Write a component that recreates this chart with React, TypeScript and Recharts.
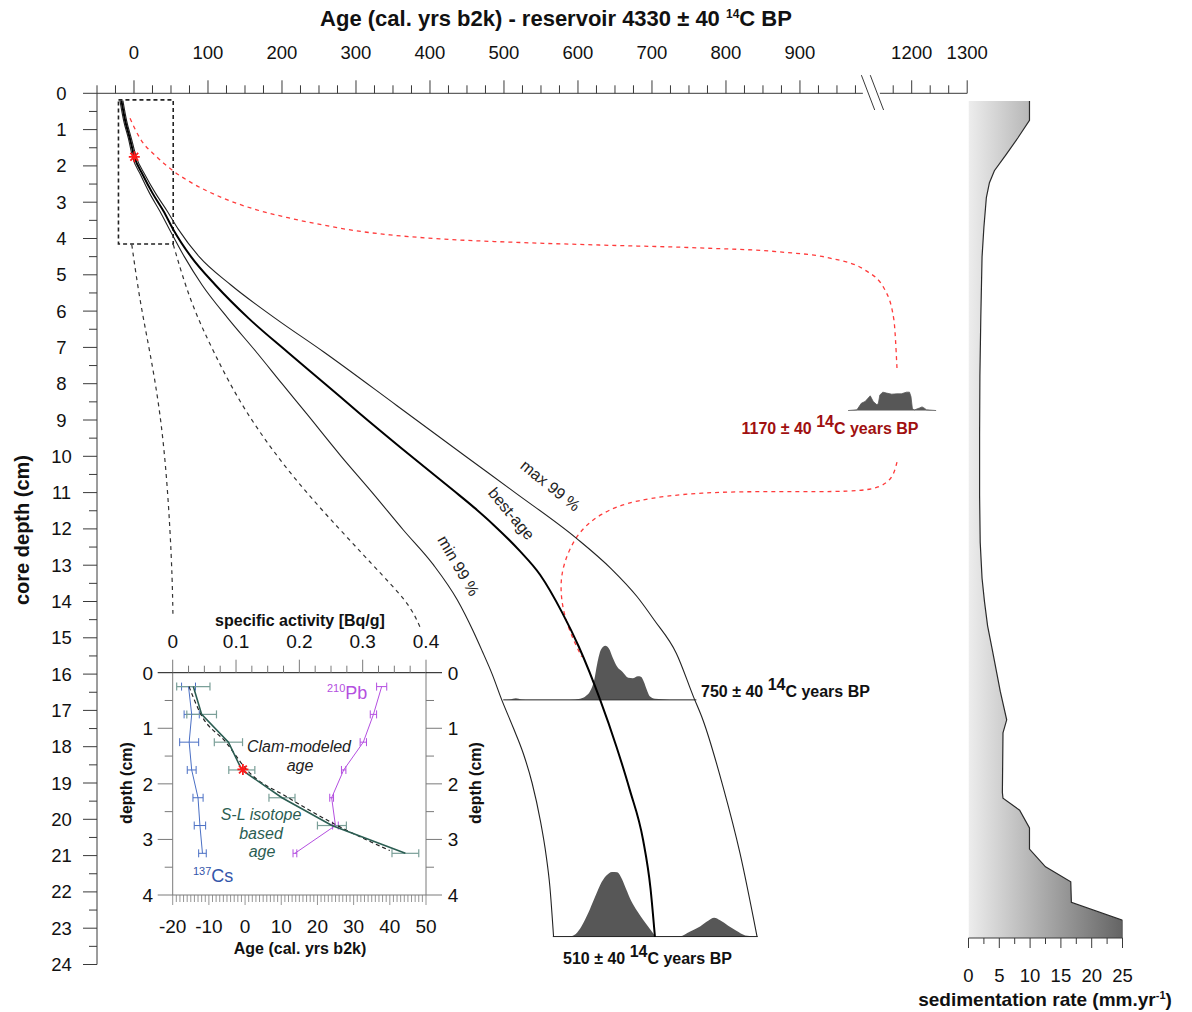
import React from 'react';
import {
  ComposedChart, Line, Area, Scatter, XAxis, YAxis, ReferenceArea, ReferenceLine, ErrorBar,
} from 'recharts';

const FONT = 'Arial, "Liberation Sans", Helvetica, sans-serif';
const W = 1192;
const H = 1012;
const AXIS = '#3a3a3a';

// ---------------- main age-depth model (depth cm, age cal yrs b2k; axis units past the break) ----------------
const minDepths = [0.2, 0.75, 1.25, 1.75, 2.25, 2.75, 3.25, 3.75, 4.5, 5.28, 6.2, 7.12, 8.0, 8.82, 10.0, 11.0, 12.03, 13.0, 13.96, 14.8, 15.34, 16.0, 16.71, 17.5, 18.18, 19.0, 20.02, 21.0, 21.85, 23.23];
const minAges = [-19, -14, -7.5, -2, 9, 21, 35, 48, 68, 92, 127, 165, 200, 233, 280, 322, 364, 405, 437, 458, 470, 484, 497, 513, 526, 538, 549, 557, 562, 567];
const bestDepths = [0.2, 0.75, 1.25, 1.75, 2.25, 2.75, 3.25, 3.75, 4.5, 5.28, 6.2, 7.12, 8.0, 8.82, 9.77, 10.93, 11.4, 11.89, 12.6, 13.27, 14.32, 15.24, 16.71, 18.0, 19.19, 20.57, 21.9, 23.24];
const bestAges = [-17, -12, -5.5, 0.5, 12, 25, 40, 53, 77, 110, 155, 207, 258, 305, 361, 431, 459, 486, 521, 549, 579, 601, 630, 652, 670, 688, 698, 704];
const maxDepths = [0.2, 0.75, 1.25, 1.75, 2.25, 2.75, 3.25, 3.75, 4.5, 5.28, 6.2, 7.12, 8.6, 10.0, 11.0, 12.26, 13.1, 13.87, 14.51, 15.43, 16.62, 17.27, 19.1, 20.94, 23.23];
const maxAges = [-15, -10, -3.5, 3, 15, 29, 45, 60, 88, 131, 191, 256, 355, 448, 515, 598, 645, 680, 703, 733, 756, 769, 796, 819, 842];

// calibrated distributions (age, relative probability)
const d750Base = 16.71;
const d750Height = 1.49;
const d750Ages = [499, 508, 516, 524, 535, 589, 603, 611, 616, 622, 626, 631, 637, 642, 647, 653, 660, 668, 674, 681, 685, 689, 693, 697, 704, 724, 760];
const d750Dens = [0, 0.007, 0.03, 0.007, 0, 0, 0.019, 0.074, 0.148, 0.37, 0.667, 0.926, 1.0, 0.944, 0.778, 0.611, 0.519, 0.407, 0.398, 0.435, 0.426, 0.333, 0.185, 0.065, 0.019, 0.004, 0];

const d510Base = 23.23;
const d510Height = 1.79;
const d510Ages = [566, 589, 597, 605, 614, 622, 630, 638, 646, 653, 658, 665, 672, 680, 688, 695, 701, 705, 738, 751, 765, 776, 784, 792, 803, 814, 826, 843];
const d510Dens = [0, 0.003, 0.041, 0.164, 0.365, 0.58, 0.795, 0.934, 0.995, 0.988, 0.918, 0.733, 0.549, 0.395, 0.257, 0.149, 0.057, 0, 0.003, 0.072, 0.154, 0.242, 0.288, 0.249, 0.165, 0.088, 0.018, 0];

const d1170Base = 8.74;
const d1170Height = 0.507;
const d1170Ages = [965, 977, 983, 988, 995, 999, 1004, 1006, 1008, 1012, 1017, 1024, 1031, 1037, 1044, 1048, 1050, 1052, 1055, 1061, 1065, 1068, 1071, 1084];
const d1170Dens = [0, 0.04, 0.4, 0.49, 0.8, 0.49, 0.31, 0.4, 0.85, 1.0, 0.95, 0.89, 0.91, 0.91, 1.0, 1.0, 0.76, 0.08, 0.04, 0.13, 0.2, 0.13, 0.04, 0];

// connectors (zoom box -> inset) and red links
const connLeftAges = [-3, 8, 21.6, 35, 43.5, 48.8, 51.8, 52.7];
const connLeftDepths = [4.17, 5.74, 7.12, 8.72, 10.38, 12.03, 13.41, 14.45];
const connRightAges = [53.1, 75.7, 107.2, 147.7, 210.8, 278.4, 339.2, 373, 386.5];
const connRightDepths = [4.17, 5.74, 7.12, 8.72, 10.5, 12.03, 13.35, 14.1, 14.7];
const red1Ages = [-5.4, 8.1, 30.7, 53.1, 75.7, 120.7, 165.8, 210.8, 255.8, 300.9, 345.9, 413.5, 521.6, 629.7, 764.9, 873, 940.5, 987.8, 1014.9, 1027, 1031.1];
const red1Depths = [0.69, 1.24, 1.75, 2.14, 2.44, 2.89, 3.21, 3.44, 3.63, 3.79, 3.9, 4.01, 4.11, 4.18, 4.26, 4.37, 4.54, 4.87, 5.42, 6.25, 7.57];
const red2Ages = [1031.1, 1025.7, 1008.1, 974.3, 873, 764.9, 674.7, 629.7, 598.2, 580.1, 575.7, 580.1, 593.6, 605];
const red2Depths = [10.16, 10.6, 10.87, 10.98, 10.97, 10.98, 11.2, 11.57, 12.12, 12.95, 13.59, 14.33, 15.06, 15.52];

const mainStar = [{ age: 0.4, depth: 1.75 }];

// top axis ticks (axis units; 1051 and 1126 sit after the break)
const ageTickValues = [0, 100, 200, 300, 400, 500, 600, 700, 800, 900, 1051, 1126];
const ageTickLabels = ['0', '100', '200', '300', '400', '500', '600', '700', '800', '900', '1200', '1300'];
const ageMinorTicks: number[] = [];
for (let v = -50; v <= 975; v += 25) if (ageTickValues.indexOf(v) < 0) ageMinorTicks.push(v);
ageMinorTicks.push(1026, 1076, 1101);
const topTicks = [...ageMinorTicks, ...ageTickValues].sort((a, b) => a - b);
const depthTicks: number[] = [];
for (let d = 0; d <= 24; d += 0.5) depthTicks.push(d);

// ---------------- inset ----------------
const insetDepths = [0.25, 0.75, 1.25, 1.75, 2.25, 2.75, 3.25];
const slAges = [-14.3, -12.0, -4.6, -0.9, 10.2, 24.0, 44.3];
const slErr = [4.6, 4.1, 3.9, 3.6, 3.6, 4.0, 3.7];
const clamDepths = [0.25, 0.75, 1.25, 1.75, 2.25, 2.75, 3.2];
const clamAges = [-15.5, -12.2, -5.3, 0.5, 12, 25.5, 40];
const csAct = [0.025, 0.03, 0.026, 0.03, 0.04, 0.043, 0.047];
const csErr = [0.011, 0.012, 0.015, 0.007, 0.008, 0.009, 0.006];
const pbAct = [0.33, 0.317, 0.301, 0.27, 0.251, 0.257, 0.193];
const pbErr = [0.008, 0.005, 0.005, 0.0035, 0.003, 0.0045, 0.003];
const insetStar = [{ age: -0.6, depth: 1.74 }];

const insetAgeTicks: number[] = [];
for (let a = -20; a <= 50; a += 1) insetAgeTicks.push(a);
const insetActTicks: number[] = [];
for (let k = 0; k <= 16; k++) insetActTicks.push(k * 0.025);
const insetDepthTicks = [0, 0.5, 1, 1.5, 2, 2.5, 3, 3.5, 4];

// ---------------- sedimentation rate ----------------
const sedDepths = [0.21, 0.74, 1.23, 1.69, 2.13, 2.46, 2.87, 3.69, 4.51, 6.15, 7.79, 9.43, 11.06, 12.37, 13.36, 14.01, 14.67, 15.32, 15.98, 16.47, 17.26, 17.62, 19.26, 19.42, 19.75, 20.24, 20.82, 21.31, 21.72, 22.29, 22.78, 23.27];
const sedRates = [9.9, 9.9, 8.0, 6.1, 4.2, 3.4, 2.9, 2.5, 2.2, 2.0, 1.85, 1.8, 1.8, 1.9, 2.2, 2.6, 3.1, 3.85, 4.6, 5.15, 6.2, 5.6, 5.5, 5.6, 8.3, 9.9, 9.9, 12.5, 16.6, 16.7, 25, 25];
const sedTicks = [0, 2.5, 5, 7.5, 10, 12.5, 15, 17.5, 20, 22.5, 25];

// ---------------- helpers ----------------
const pts = (ages: number[], depths: number[]) => ages.map((a, i) => ({ age: a, depth: depths[i] }));
const dist = (ages: number[], dens: number[], base: number, h: number) =>
  ages.map((a, i) => ({ age: a, top: base - dens[i] * h }));

const StarShape = (p: any) => {
  const { cx, cy } = p;
  const r = 5.5;
  const d = r * 0.707;
  return (
    <g stroke="#ff1a1a" strokeWidth={1.8}>
      <line x1={cx - r} y1={cy} x2={cx + r} y2={cy} />
      <line x1={cx} y1={cy - r} x2={cx} y2={cy + r} />
      <line x1={cx - d} y1={cy - d} x2={cx + d} y2={cy + d} />
      <line x1={cx - d} y1={cy + d} x2={cx + d} y2={cy - d} />
    </g>
  );
};
const NoShape = () => <g />;

const TopTick = (p: any) => {
  const { x, y, payload } = p;
  const i = ageTickValues.indexOf(payload.value);
  const major = i >= 0;
  return (
    <g>
      <line x1={x} y1={y} x2={x} y2={y - (major ? 13 : 8)} stroke={AXIS} />
      {major && (
        <text x={x} y={y - 34} textAnchor="middle" fontSize={18.5} fill="#111">{ageTickLabels[i]}</text>
      )}
    </g>
  );
};
const DepthTick = (p: any) => {
  const { x, y, payload } = p;
  const v = payload.value;
  const major = Number.isInteger(v);
  return (
    <g>
      <line x1={x} y1={y} x2={x - (major ? 14 : 8)} y2={y} stroke={AXIS} />
      {major && (
        <text x={61.5} y={y + 6.5} textAnchor="middle" fontSize={18.5} fill="#111">{v}</text>
      )}
    </g>
  );
};
const INSET_AX = '#7a7a7a';
const InsetAgeTick = (p: any) => {
  const { x, y, payload } = p;
  const v = payload.value;
  const major = v % 10 === 0;
  return (
    <g>
      <line x1={x} y1={y} x2={x} y2={y + (major ? 10 : 7)} stroke={INSET_AX} strokeWidth={0.8} />
      {major && <text x={x} y={y + 38} textAnchor="middle" fontSize={19} fill="#111">{v}</text>}
    </g>
  );
};
const InsetActTick = (p: any) => {
  const { x, y, payload } = p;
  const v = payload.value;
  const major = Math.abs(v * 10 - Math.round(v * 10)) < 1e-6;
  return (
    <g>
      <line x1={x} y1={y} x2={x} y2={y - (major ? 13 : 7)} stroke={INSET_AX} />
      {major && (
        <text x={x} y={y - 25} textAnchor="middle" fontSize={19} fill="#111">{Math.round(v * 10) / 10}</text>
      )}
    </g>
  );
};
const InsetLeftTick = (p: any) => {
  const { x, y, payload } = p;
  const v = payload.value;
  const major = Number.isInteger(v);
  return (
    <g>
      <line x1={x} y1={y} x2={x - (major ? 15 : 8)} y2={y} stroke={major && v === 0 ? '#111' : INSET_AX} />
      {major && <text x={x - 25} y={y + 7} textAnchor="middle" fontSize={19} fill="#111">{v}</text>}
    </g>
  );
};
const InsetRightTick = (p: any) => {
  const { x, y, payload } = p;
  const v = payload.value;
  const major = Number.isInteger(v);
  return (
    <g>
      <line x1={x} y1={y} x2={x + (major ? 16 : 8)} y2={y} stroke={major && v === 0 ? '#111' : INSET_AX} />
      {major && <text x={x + 27} y={y + 7} textAnchor="middle" fontSize={19} fill="#111">{v}</text>}
    </g>
  );
};
const SedTick = (p: any) => {
  const { x, y, payload } = p;
  const v = payload.value;
  const major = v % 5 === 0;
  return (
    <g>
      <line x1={x} y1={y} x2={x} y2={y + (major ? 10 : 6)} stroke={AXIS} />
      {major && <text x={x} y={y + 44} textAnchor="middle" fontSize={18.5} fill="#111">{v}</text>}
    </g>
  );
};

const MainChart = () => (
  <ComposedChart width={W} height={H} margin={{ top: 92.3, left: 96, right: W - 967.2, bottom: H - 964.5 }}>
    <XAxis type="number" dataKey="age" orientation="top" domain={[-50, 1126]} allowDataOverflow
      ticks={topTicks} interval={0} height={1} tickSize={0} tickMargin={0} axisLine={false} tickLine={false} tick={TopTick} />
    <YAxis type="number" dataKey="depth" domain={[0, 24]} reversed allowDataOverflow
      ticks={depthTicks} interval={0} width={1} tickSize={0} tickMargin={0} axisLine={{ stroke: AXIS }} tickLine={false} tick={DepthTick} />
    <ReferenceLine segment={[{ x: -50, y: 0 }, { x: 985, y: 0 }]} stroke={AXIS} ifOverflow="visible" />
    <ReferenceLine segment={[{ x: 1008, y: 0 }, { x: 1126, y: 0 }]} stroke={AXIS} ifOverflow="visible" />
    <ReferenceLine segment={[{ x: 983, y: -0.5 }, { x: 1001, y: 0.46 }]} stroke={AXIS} ifOverflow="visible" />
    <ReferenceLine segment={[{ x: 995, y: -0.5 }, { x: 1013, y: 0.46 }]} stroke={AXIS} ifOverflow="visible" />

    <ReferenceArea x1={-21} x2={53} y1={0.18} y2={4.15} fill="none" fillOpacity={0} stroke="#222" strokeWidth={1.6} strokeDasharray="4 3" ifOverflow="visible" />

    <Area data={dist(d750Ages, d750Dens, d750Base, d750Height)} dataKey="top" baseValue={d750Base} type="monotone" fill="#575757" fillOpacity={1} stroke="none" isAnimationActive={false} />
    <Area data={dist(d510Ages, d510Dens, d510Base, d510Height)} dataKey="top" baseValue={d510Base} type="monotone" fill="#575757" fillOpacity={1} stroke="none" isAnimationActive={false} />
    <Area data={dist(d1170Ages, d1170Dens, d1170Base, d1170Height)} dataKey="top" baseValue={d1170Base} type="linear" fill="#575757" fillOpacity={1} stroke="#575757" strokeWidth={0.8} isAnimationActive={false} />

    <Line data={[{ age: d750Ages[0], depth: d750Base }, { age: d750Ages[d750Ages.length - 1], depth: d750Base }]} dataKey="depth" type="linear" stroke="#222" strokeWidth={1} dot={false} isAnimationActive={false} />
    <Line data={[{ age: d510Ages[0], depth: d510Base }, { age: d510Ages[d510Ages.length - 1], depth: d510Base }]} dataKey="depth" type="linear" stroke="#222" strokeWidth={1} dot={false} isAnimationActive={false} />

    <Line data={pts(connLeftAges, connLeftDepths)} dataKey="depth" type="basis" stroke="#333" strokeWidth={1.2} strokeDasharray="4 4" dot={false} isAnimationActive={false} />
    <Line data={pts(connRightAges, connRightDepths)} dataKey="depth" type="basis" stroke="#333" strokeWidth={1.2} strokeDasharray="4 4" dot={false} isAnimationActive={false} />
    <Line data={pts(red1Ages, red1Depths)} dataKey="depth" type="monotone" stroke="#ff3b3b" strokeWidth={1.3} strokeDasharray="4 4" dot={false} isAnimationActive={false} />
    <Line data={pts(red2Ages, red2Depths)} dataKey="depth" type="basis" stroke="#ff3b3b" strokeWidth={1.3} strokeDasharray="4 4" dot={false} isAnimationActive={false} />

    <Line data={pts(minAges, minDepths)} dataKey="depth" type="monotone" stroke="#222" strokeWidth={1.1} dot={false} isAnimationActive={false} />
    <Line data={pts(maxAges, maxDepths)} dataKey="depth" type="monotone" stroke="#222" strokeWidth={1.1} dot={false} isAnimationActive={false} />
    <Line data={pts(bestAges, bestDepths)} dataKey="depth" type="monotone" stroke="#000" strokeWidth={2} dot={false} isAnimationActive={false} />

    <Scatter data={mainStar} shape={StarShape} isAnimationActive={false} />
  </ComposedChart>
);

const InsetChart = () => {
  const sl = insetDepths.map((d, i) => ({ age: slAges[i], depth: d, err: slErr[i] }));
  const clam = clamDepths.map((d, i) => ({ age: clamAges[i], depth: d }));
  const cs = insetDepths.map((d, i) => ({ act: csAct[i], depth: d, err: csErr[i] }));
  const pb = insetDepths.map((d, i) => ({ act: pbAct[i], depth: d, err: pbErr[i] }));
  return (
    <ComposedChart width={W} height={H} margin={{ top: 671.7, left: 171.7, right: W - 427, bottom: H - 896 }}>
      <XAxis xAxisId="age" type="number" dataKey="age" orientation="bottom" domain={[-20, 50]} allowDataOverflow
        ticks={insetAgeTicks} interval={0} height={1} tickSize={0} tickMargin={0} axisLine={{ stroke: INSET_AX }} tickLine={false} tick={InsetAgeTick} />
      <XAxis xAxisId="act" type="number" dataKey="act" orientation="top" domain={[0, 0.4]} allowDataOverflow
        ticks={insetActTicks} interval={0} height={1} tickSize={0} tickMargin={0} axisLine={{ stroke: '#111' }} tickLine={false} tick={InsetActTick} />
      <YAxis yAxisId="l" type="number" dataKey="depth" domain={[0, 4]} reversed allowDataOverflow
        ticks={insetDepthTicks} interval={0} width={1} tickSize={0} tickMargin={0} axisLine={{ stroke: INSET_AX }} tickLine={false} tick={InsetLeftTick} />
      <YAxis yAxisId="r" orientation="right" type="number" dataKey="depth" domain={[0, 4]} reversed allowDataOverflow
        ticks={insetDepthTicks} interval={0} width={1} tickSize={0} tickMargin={0} axisLine={{ stroke: INSET_AX }} tickLine={false} tick={InsetRightTick} />

      <Scatter xAxisId="act" yAxisId="l" data={cs} fill="#4a6fc4" line={{ stroke: '#4a6fc4', strokeWidth: 1 }} lineType="joint" shape={NoShape} isAnimationActive={false}>
        <ErrorBar dataKey="err" direction="x" width={4} stroke="#4a6fc4" strokeWidth={1} />
      </Scatter>
      <Scatter xAxisId="act" yAxisId="l" data={pb} fill="#b44fe0" line={{ stroke: '#b44fe0', strokeWidth: 1 }} lineType="joint" shape={NoShape} isAnimationActive={false}>
        <ErrorBar dataKey="err" direction="x" width={4} stroke="#b44fe0" strokeWidth={1} />
      </Scatter>
      <Scatter xAxisId="age" yAxisId="l" data={sl} fill="#2b5d52" line={{ stroke: '#2b5d52', strokeWidth: 1.6 }} lineType="joint" shape={NoShape} isAnimationActive={false}>
        <ErrorBar dataKey="err" direction="x" width={4} stroke="#7a9f98" strokeWidth={1.2} />
      </Scatter>
      <Line xAxisId="age" yAxisId="l" data={clam} dataKey="depth" type="monotone" stroke="#222" strokeWidth={1.2} strokeDasharray="4 3" dot={false} isAnimationActive={false} />
      <Scatter xAxisId="age" yAxisId="l" data={insetStar} shape={StarShape} isAnimationActive={false} />
    </ComposedChart>
  );
};

const SedChart = () => {
  const sed = sedDepths.map((d, i) => ({ depth: d, rate: sedRates[i] }));
  return (
    <ComposedChart layout="vertical" width={W} height={H} margin={{ top: 101, left: 968.5, right: W - 1122.5, bottom: H - 939 }}>
      <defs>
        <linearGradient id="sedGrad" x1="0" y1="0" x2="1" y2="0">
          <stop offset="0" stopColor="#ededed" />
          <stop offset="1" stopColor="#646464" />
        </linearGradient>
      </defs>
      <XAxis type="number" dataKey="rate" orientation="bottom" domain={[0, 25]} allowDataOverflow
        ticks={sedTicks} interval={0} height={1} tickSize={0} tickMargin={0} axisLine={{ stroke: AXIS }} tickLine={false} tick={SedTick} />
      <YAxis type="number" dataKey="depth" domain={[0.21, 23.27]} allowDataOverflow hide />
      <Area data={sed} dataKey="rate" type="linear" fill="url(#sedGrad)" fillOpacity={1} stroke="#2a2a2a" strokeWidth={1.2} isAnimationActive={false} />
    </ComposedChart>
  );
};

const C14Label = ({ x, y, num, color, anchor }: any) => (
  <text x={x} y={y} fontSize={16} fontWeight="bold" fill={color} textAnchor={anchor}>
    {num} ± 40 <tspan dy={-7}>14</tspan><tspan dy={7}>C years BP</tspan>
  </text>
);

const Overlay = () => (
  <svg width={W} height={H} style={{ position: 'absolute', left: 0, top: 0 }} fontFamily={FONT}>
    <text x={556} y={26} textAnchor="middle" fontSize={22} fontWeight="bold" fill="#111">
      Age (cal. yrs b2k) - reservoir 4330 ± 40 <tspan fontSize={12} dy={-8}>14</tspan><tspan dy={8}>C BP</tspan>
    </text>
    <text transform="translate(29,530) rotate(-90)" textAnchor="middle" fontSize={20} fontWeight="bold" fill="#111">core depth (cm)</text>

    <text transform="translate(550,486) rotate(39)" textAnchor="middle" fontSize={16} fill="#222" dy={5}>max 99 %</text>
    <text transform="translate(511,514) rotate(50)" textAnchor="middle" fontSize={16} fill="#222" dy={5}>best-age</text>
    <text transform="translate(458,566) rotate(60)" textAnchor="middle" fontSize={16} fill="#222" dy={5}>min 99 %</text>

    <C14Label x={830} y={434} num="1170" color="#a01010" anchor="middle" />
    <C14Label x={701} y={697} num="750" color="#111" anchor="start" />
    <C14Label x={563} y={964} num="510" color="#111" anchor="start" />

    {/* inset texts */}
    <text x={300} y={626} textAnchor="middle" fontSize={16} fontWeight="bold" fill="#111">specific activity [Bq/g]</text>
    <text x={300} y={954} textAnchor="middle" fontSize={16} fontWeight="bold" fill="#111">Age (cal. yrs b2k)</text>
    <text transform="translate(132,783) rotate(-90)" textAnchor="middle" fontSize={16} fontWeight="bold" fill="#111">depth (cm)</text>
    <text transform="translate(481,783) rotate(-90)" textAnchor="middle" fontSize={16} fontWeight="bold" fill="#111">depth (cm)</text>
    <text x={299} y={752} textAnchor="middle" fontSize={16} fontStyle="italic" fill="#222">Clam-modeled</text>
    <text x={300} y={771} textAnchor="middle" fontSize={16} fontStyle="italic" fill="#222">age</text>
    <text x={261} y={820} textAnchor="middle" fontSize={16} fontStyle="italic" fill="#2b5d52">S-L isotope</text>
    <text x={261} y={839} textAnchor="middle" fontSize={16} fontStyle="italic" fill="#2b5d52">based</text>
    <text x={262} y={857} textAnchor="middle" fontSize={16} fontStyle="italic" fill="#2b5d52">age</text>
    <text x={327} y={699} fontSize={18} fill="#b44fe0"><tspan fontSize={11} dy={-7}>210</tspan><tspan dy={7}>Pb</tspan></text>
    <text x={193} y={882} fontSize={18} fill="#3355aa"><tspan fontSize={11} dy={-7}>137</tspan><tspan dy={7}>Cs</tspan></text>

    {/* sedimentation title */}
    <text x={1045} y={1006} textAnchor="middle" fontSize={19} fontWeight="bold" fill="#111">
      sedimentation rate (mm.yr<tspan fontSize={11} dy={-7}>-1</tspan><tspan dy={7}>)</tspan>
    </text>
  </svg>
);

export default function App() {
  return (
    <div style={{ position: 'absolute', left: 0, top: 0, width: W, height: H, background: '#fff', fontFamily: FONT, overflow: 'hidden' }}>
      <div style={{ position: 'absolute', left: 0, top: 0 }}><MainChart /></div>
      <div style={{ position: 'absolute', left: 0, top: 0 }}><InsetChart /></div>
      <div style={{ position: 'absolute', left: 0, top: 0 }}><SedChart /></div>
      <Overlay />
    </div>
  );
}
